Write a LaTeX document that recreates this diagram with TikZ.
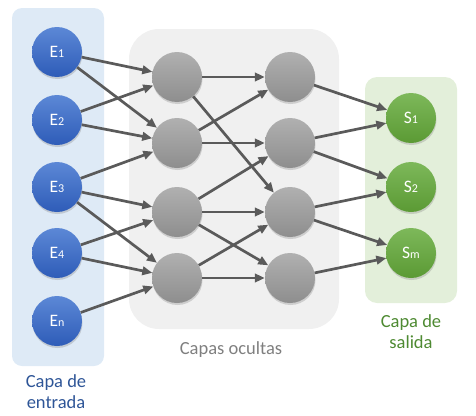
\documentclass[tikz,border=0pt]{standalone}
\usepackage{fontspec}
\setmainfont{Carlito}
\usetikzlibrary{arrows.meta,shadows}

\definecolor{azulpanel}{HTML}{DEEAF6}
\definecolor{grispanel}{HTML}{F0F0F0}
\definecolor{verdepanel}{HTML}{E3EFDA}
\definecolor{azultexto}{HTML}{2E5597}
\definecolor{gristexto}{HTML}{7F7F7F}
\definecolor{verdetexto}{HTML}{4E8A32}
\definecolor{flechagris}{HTML}{5A5A5A}
\definecolor{azularriba}{HTML}{5C88D6}
\definecolor{azulabajo}{HTML}{2E5CB8}
\definecolor{grisarriba}{HTML}{B0B0B0}
\definecolor{grisabajo}{HTML}{8E8E8E}
\definecolor{verdearriba}{HTML}{7DB85A}
\definecolor{verdeabajo}{HTML}{5B9A34}

\newcommand{\indice}[1]{{\fontsize{12}{12}\selectfont #1}}

\begin{document}
\begin{tikzpicture}[x=1pt, y=-1pt,
    neurona/.style={circle, minimum size=50pt, inner sep=0pt, text=white,
        font=\fontsize{17.5}{17.5}\selectfont,
        drop shadow={opacity=0.3, shadow xshift=0.5pt, shadow yshift=-2pt}},
    entrada/.style={neurona, top color=azularriba, bottom color=azulabajo},
    oculta/.style={neurona, top color=grisarriba, bottom color=grisabajo},
    salida/.style={neurona, top color=verdearriba, bottom color=verdeabajo},
    rotulo/.style={align=center, font=\fontsize{18.5}{21}\selectfont},
    flecha/.style={-{Triangle[length=10pt, width=8.5pt]}, line width=2.7pt, draw=flechagris}
]
    \useasboundingbox (0,0) rectangle (476,415);

    % Panels
    \fill[azulpanel, rounded corners=10pt] (12,8) rectangle (104,366);
    \fill[grispanel, rounded corners=30pt] (129,29) rectangle (339,329);
    \fill[verdepanel, rounded corners=12pt] (365,77) rectangle (457,303);

    % Nodes
    \node[entrada] at (57, 52)  (e1) {E\indice{1}};
    \node[entrada] at (57, 120) (e2) {E\indice{2}};
    \node[entrada] at (57, 187) (e3) {E\indice{3}};
    \node[entrada] at (57, 253) (e4) {E\indice{4}};
    \node[entrada] at (57, 321) (en) {E\indice{n}};

    \node[oculta] at (177, 77)  (a1) {};
    \node[oculta] at (177, 143) (a2) {};
    \node[oculta] at (177, 212) (a3) {};
    \node[oculta] at (177, 278) (a4) {};

    \node[oculta] at (290, 77)  (b1) {};
    \node[oculta] at (290, 143) (b2) {};
    \node[oculta] at (290, 212) (b3) {};
    \node[oculta] at (290, 278) (b4) {};

    \node[salida] at (411, 118) (s1) {S\indice{1}};
    \node[salida] at (411, 187) (s2) {S\indice{2}};
    \node[salida] at (411, 253) (sm) {S\indice{m}};

    % Labels
    \node[rotulo, text=azultexto]  at (56, 392)  (lentrada) {Capa de\\entrada};
    \node[rotulo, text=gristexto]  at (231, 350) (locultas) {Capas ocultas};
    \node[rotulo, text=verdetexto] at (411, 332) (lsalida)  {Capa de\\salida};

    % Connections
    \draw[flecha] (e1) -- (a1);
    \draw[flecha] (e1) -- (a2);

    \draw[flecha] (e2) -- (a1);
    \draw[flecha] (e2) -- (a2);

    \draw[flecha] (e3) -- (a2);
    \draw[flecha] (e3) -- (a3);
    \draw[flecha] (e3) -- (a4);

    \draw[flecha] (e4) -- (a3);
    \draw[flecha] (e4) -- (a4);

    \draw[flecha] (en) -- (a4);

    \draw[flecha] (a1) -- (b1);
    \draw[flecha] (a1) -- (b3);

    \draw[flecha] (a2) -- (b1);
    \draw[flecha] (a2) -- (b2);

    \draw[flecha] (a3) -- (b2);
    \draw[flecha] (a3) -- (b3);
    \draw[flecha] (a3) -- (b4);

    \draw[flecha] (a4) -- (b3);
    \draw[flecha] (a4) -- (b4);

    \draw[flecha] (b1) -- (s1);

    \draw[flecha] (b2) -- (s1);
    \draw[flecha] (b2) -- (s2);

    \draw[flecha] (b3) -- (s2);
    \draw[flecha] (b3) -- (sm);

    \draw[flecha] (b4) -- (sm);
\end{tikzpicture}
\end{document}
